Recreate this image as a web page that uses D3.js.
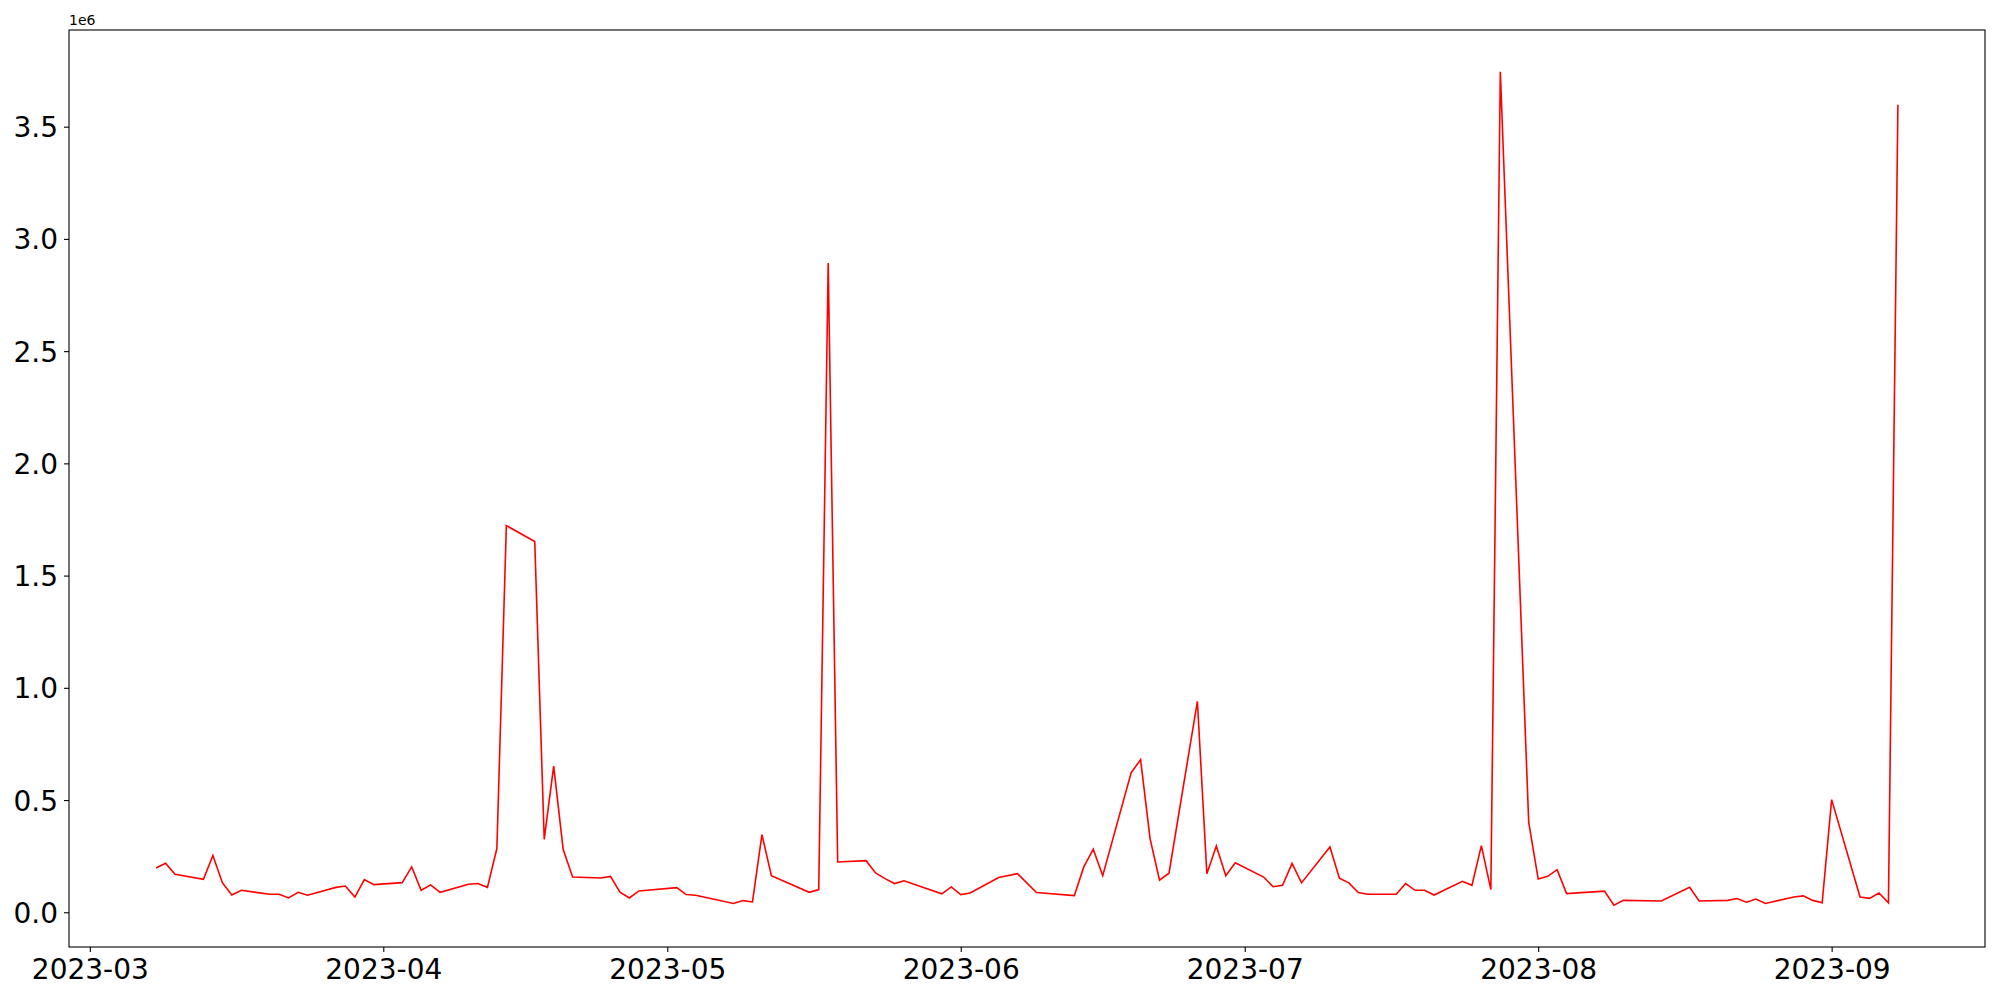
<!DOCTYPE html>
<html>
<head>
<meta charset="utf-8">
<script src="https://cdn.jsdelivr.net/npm/d3@7"></script>
<style>
  body { margin: 0; background: #fff; }
  text { font-family: "DejaVu Sans", sans-serif; }
</style>
</head>
<body>
<svg id="chart" width="2000" height="1000"></svg>
<script>
// trading dates and values
var dates = [
  "2023-03-08","2023-03-09","2023-03-10","2023-03-13","2023-03-14","2023-03-15","2023-03-16","2023-03-17",
  "2023-03-20","2023-03-21","2023-03-22","2023-03-23","2023-03-24","2023-03-27","2023-03-28","2023-03-29",
  "2023-03-30","2023-03-31","2023-04-03","2023-04-04","2023-04-05","2023-04-06","2023-04-07","2023-04-10",
  "2023-04-11","2023-04-12","2023-04-13","2023-04-14","2023-04-17","2023-04-18","2023-04-19","2023-04-20",
  "2023-04-21","2023-04-24","2023-04-25","2023-04-26","2023-04-27","2023-04-28","2023-05-02","2023-05-03",
  "2023-05-04","2023-05-08","2023-05-09","2023-05-10","2023-05-11","2023-05-12","2023-05-16","2023-05-17",
  "2023-05-18","2023-05-19","2023-05-22","2023-05-23","2023-05-24","2023-05-25","2023-05-26","2023-05-30",
  "2023-05-31","2023-06-01","2023-06-02","2023-06-05","2023-06-07","2023-06-09","2023-06-13","2023-06-14",
  "2023-06-15","2023-06-16","2023-06-19","2023-06-20","2023-06-21","2023-06-22","2023-06-23","2023-06-26",
  "2023-06-27","2023-06-28","2023-06-29","2023-06-30","2023-07-03","2023-07-04","2023-07-05","2023-07-06",
  "2023-07-07","2023-07-10","2023-07-11","2023-07-12","2023-07-13","2023-07-14","2023-07-17","2023-07-18",
  "2023-07-19","2023-07-20","2023-07-21","2023-07-24","2023-07-25","2023-07-26","2023-07-27","2023-07-28",
  "2023-07-31","2023-08-01","2023-08-02","2023-08-03","2023-08-04","2023-08-08","2023-08-09","2023-08-10",
  "2023-08-14","2023-08-17","2023-08-18","2023-08-21","2023-08-22","2023-08-23","2023-08-24","2023-08-25",
  "2023-08-28","2023-08-29","2023-08-30","2023-08-31","2023-09-01","2023-09-04","2023-09-05","2023-09-06",
  "2023-09-07","2023-09-08"
];
var values = [
  197000, 218000, 169000, 147000, 253000, 132000, 77000, 98000,
  80000, 80000, 64000, 89000, 76000, 111000, 117000, 68000,
  146000, 123000, 132000, 202000, 98000, 122000, 89000, 125000,
  128000, 111000, 284000, 1723000, 1652000, 325000, 651000, 281000,
  157000, 153000, 160000, 90000, 64000, 95000, 110000, 79000,
  76000, 39000, 52000, 46000, 346000, 163000, 89000, 101000,
  2893000, 224000, 230000, 175000, 150000, 128000, 140000, 82000,
  113000, 79000, 86000, 155000, 172000, 88000, 74000, 202000,
  281000, 163000, 621000, 680000, 328000, 143000, 174000, 940000,
  172000, 295000, 163000, 221000, 157000, 114000, 120000, 218000,
  131000, 291000, 152000, 131000, 88000, 80000, 80000, 128000,
  98000, 98000, 77000, 138000, 120000, 297000, 101000, 3745000,
  400000, 148000, 160000, 190000, 83000, 94000, 31000, 53000,
  50000, 111000, 50000, 53000, 61000, 45000, 59000, 39000,
  68000, 73000, 53000, 42000, 502000, 68000, 62000, 86000,
  42000, 3598000
];
var yTicks = [0, 0.5e6, 1e6, 1.5e6, 2e6, 2.5e6, 3e6, 3.5e6];

var parse = d3.utcParse("%Y-%m-%d");
var data = dates.map(function (d, i) { return { date: parse(d), value: values[i] }; });

var svg = d3.select("#chart");
var plotL = 69, plotR = 1985, plotT = 30, plotB = 947;

// matplotlib style 5% margins
var xExt = d3.extent(data, function (d) { return +d.date; });
var xPad = (xExt[1] - xExt[0]) * 0.05;
var x = d3.scaleUtc()
    .domain([new Date(xExt[0] - xPad), new Date(xExt[1] + xPad)])
    .range([plotL, plotR]);

var yExt = d3.extent(values);
var yPad = (yExt[1] - yExt[0]) * 0.05;
var y = d3.scaleLinear()
    .domain([yExt[0] - yPad, yExt[1] + yPad])
    .range([plotB, plotT]);

var line = d3.line()
    .x(function (d) { return x(d.date); })
    .y(function (d) { return y(d.value); });

svg.append("path")
    .datum(data)
    .attr("fill", "none")
    .attr("stroke", "#ff0000")
    .attr("stroke-width", 1.6)
    .attr("stroke-linejoin", "miter")
    .attr("d", line);

// axes
var xAxis = d3.axisBottom(x)
    .ticks(d3.utcMonth.every(1))
    .tickFormat(d3.utcFormat("%Y-%m"))
    .tickSize(5)
    .tickPadding(6);
var yAxis = d3.axisLeft(y)
    .tickValues(yTicks)
    .tickFormat(function (d) { return (d / 1e6).toFixed(1); })
    .tickSize(5)
    .tickPadding(6);

var gx = svg.append("g").attr("transform", "translate(0," + plotB + ")").call(xAxis);
var gy = svg.append("g").attr("transform", "translate(" + plotL + ",0)").call(yAxis);
[gx, gy].forEach(function (g) {
  g.select(".domain").remove();
  g.selectAll(".tick line").attr("stroke", "#000").attr("stroke-width", 1.1);
  g.selectAll(".tick text").attr("fill", "#000").style("font-size", "28px");
});
gx.selectAll(".tick text").attr("dy", "0.74em");
gy.selectAll(".tick text").attr("dy", "0.36em");

// frame
svg.append("rect")
    .attr("x", plotL).attr("y", plotT)
    .attr("width", plotR - plotL).attr("height", plotB - plotT)
    .attr("fill", "none").attr("stroke", "#000").attr("stroke-width", 1.1);

svg.append("text")
    .attr("x", plotL).attr("y", 25)
    .style("font-size", "14px")
    .text("1e6");
</script>
</body>
</html>
